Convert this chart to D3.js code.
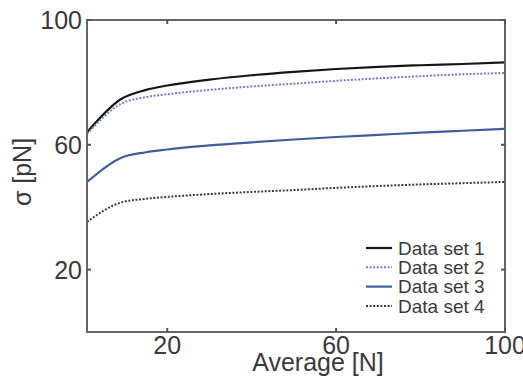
<!DOCTYPE html>
<html>
<head>
<meta charset="utf-8">
<script src="https://cdn.jsdelivr.net/npm/d3@7"></script>
<style>
  body { margin: 0; background: #fff; }
  text { font-family: "Liberation Sans", Arial, sans-serif; fill: #3a3a3a; }
</style>
</head>
<body>
<div id="chart"></div>
<script>
// data
const avgN = [1, 9, 15, 20, 30, 40, 50, 60, 70, 80, 90, 100];
const set1 = [64.0, 74.6, 77.6, 79.0, 80.9, 82.3, 83.4, 84.3, 85.0, 85.5, 85.9, 86.4];
const set2 = [63.5, 73.1, 75.3, 76.2, 77.6, 78.7, 79.6, 80.5, 81.3, 82.0, 82.6, 83.0];
const set3 = [48.1, 55.8, 57.6, 58.5, 59.8, 60.8, 61.7, 62.5, 63.2, 63.9, 64.5, 65.1];
const set4 = [35.3, 41.5, 42.7, 43.3, 44.2, 44.9, 45.5, 46.2, 46.8, 47.3, 47.7, 48.1];
const seriesNames = ["Data set 1", "Data set 2", "Data set 3", "Data set 4"];
const xTicks = [20, 60, 100];
const yTicks = [20, 60, 100];

const W = 523, H = 385;
const plot = { left: 87, right: 505, top: 20, bottom: 332 };

const svg = d3.select("#chart").append("svg")
    .attr("width", W).attr("height", H);

const x = d3.scaleLinear().domain([1, 100]).range([plot.left, plot.right]);
const y = d3.scaleLinear().domain([0, 100]).range([plot.bottom, plot.top]);

const styles = [
    { color: "#151515", dash: null, width: 2.2 },
    { color: "#6f80c4", dash: "2,1.6", width: 2 },
    { color: "#3f5f9c", dash: null, width: 2.2 },
    { color: "#3a3a3a", dash: "2,1.6", width: 2 }
];
const allSets = [set1, set2, set3, set4];

const line = d3.line()
    .x((d, i) => x(avgN[i]))
    .y(d => y(d))
    .curve(d3.curveMonotoneX);

allSets.forEach((s, k) => {
    svg.append("path")
        .datum(s)
        .attr("fill", "none")
        .attr("stroke", styles[k].color)
        .attr("stroke-width", styles[k].width)
        .attr("stroke-dasharray", styles[k].dash)
        .attr("d", line);
});

// box
svg.append("rect")
    .attr("x", plot.left).attr("y", plot.top)
    .attr("width", plot.right - plot.left).attr("height", plot.bottom - plot.top)
    .attr("fill", "none")
    .attr("stroke", "#666")
    .attr("stroke-width", 2);

// ticks (inward, all four sides)
xTicks.forEach(t => {
    svg.append("line").attr("x1", x(t)).attr("x2", x(t))
        .attr("y1", plot.bottom).attr("y2", plot.bottom - 4)
        .attr("stroke", "#555").attr("stroke-width", 2);
    svg.append("line").attr("x1", x(t)).attr("x2", x(t))
        .attr("y1", plot.top).attr("y2", plot.top + 4)
        .attr("stroke", "#555").attr("stroke-width", 2);
    svg.append("text")
        .attr("x", x(t)).attr("y", plot.bottom + 22)
        .attr("text-anchor", "middle")
        .style("font-size", "25px")
        .text(t);
});
yTicks.forEach(t => {
    svg.append("line").attr("x1", plot.left).attr("x2", plot.left + 4)
        .attr("y1", y(t)).attr("y2", y(t))
        .attr("stroke", "#555").attr("stroke-width", 2);
    svg.append("line").attr("x1", plot.right).attr("x2", plot.right - 4)
        .attr("y1", y(t)).attr("y2", y(t))
        .attr("stroke", "#555").attr("stroke-width", 2);
    svg.append("text")
        .attr("x", plot.left - 5).attr("y", y(t))
        .attr("dy", "0.36em")
        .attr("text-anchor", "end")
        .style("font-size", "25px")
        .text(t);
});

// axis labels
svg.append("text")
    .attr("x", 318).attr("y", 371)
    .attr("text-anchor", "middle")
    .style("font-size", "25px")
    .text("Average [N]");

svg.append("text")
    .attr("transform", "translate(31,172) rotate(-90)")
    .attr("text-anchor", "middle")
    .style("font-size", "25px")
    .text("σ [pN]");

// legend
const legend = svg.append("g");
seriesNames.forEach((name, k) => {
    const ly = 248 + k * 19.3;
    legend.append("line")
        .attr("x1", 366).attr("x2", 392)
        .attr("y1", ly).attr("y2", ly)
        .attr("stroke", styles[k].color)
        .attr("stroke-width", styles[k].width)
        .attr("stroke-dasharray", styles[k].dash);
    legend.append("text")
        .attr("x", 398).attr("y", ly)
        .attr("dy", "0.36em")
        .style("font-size", "19px")
        .text(name);
});
</script>
</body>
</html>
